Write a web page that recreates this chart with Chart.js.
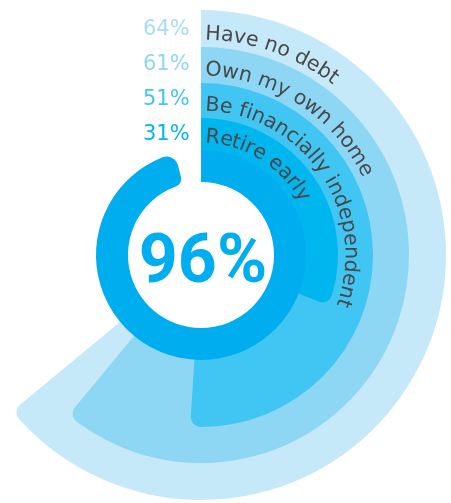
<!DOCTYPE html>
<html>
<head>
<meta charset="UTF-8">
<script src="https://cdn.jsdelivr.net/npm/chart.js@4.4.1/dist/chart.umd.min.js"></script>
<style>
    body { margin:0; background:#fff; }
    #wrap { position:relative; width:451px; height:503px; overflow:hidden; }
    #wrap canvas { position:absolute; left:0; top:0; }
</style>
</head>
<body>
<div id="wrap">
    <canvas id="ring0" width="451" height="503"></canvas>
    <canvas id="ring1" width="451" height="503"></canvas>
    <canvas id="ring2" width="451" height="503"></canvas>
    <canvas id="ring3" width="451" height="503"></canvas>
    <canvas id="ringTotal" width="451" height="503"></canvas>
</div>
<script>
    // data
    const goalLabels = ['Have no debt', 'Own my own home', 'Be financially independent', 'Retire early'];
    const goalValues = [64, 61, 51, 31];
    const totalValue = 96;

    // styles
    const goalColors = ['#c6e9f9', '#8dd7f5', '#41c5f3', '#00b6ef'];
    const goalTextColors = ['#a6dcf5', '#8fd7f5', '#41c5f3', '#00b6ef'];
    const totalColor = '#00aeef';
    const labelColor = '#48484a';
    const goalOuter = [245, 208, 172, 137];
    const totalRing = [73, 105];
    const pctBaselines = [35, 70, 105, 140];
    const pad = {left: 0, right: 49, top: 10, bottom: 3};

    const goalCharts = [];

    function ringChart(id, value, color, outer, inner, corners, plugins) {
        return new Chart(document.getElementById(id), {
            type: 'doughnut',
            data: {
                labels: ['', ''],
                datasets: [{
                    data: [value, 100 - value],
                    backgroundColor: [color, 'rgba(0,0,0,0)'],
                    borderWidth: 0,
                    borderRadius: corners,
                    clip: false
                }]
            },
            options: {
                responsive: false,
                animation: false,
                events: [],
                radius: outer,
                cutout: (inner / outer * 100) + '%',
                layout: {padding: pad},
                plugins: {legend: {display: false}, tooltip: {enabled: false}}
            },
            plugins: plugins || []
        });
    }

    // writes text letter by letter along a circle, clockwise
    function arcText(ctx, text, cx, cy, r, startAngle, offset) {
        for (let i = 0; i < text.length; i++) {
            const before = ctx.measureText(text.slice(0, i)).width;
            const w = ctx.measureText(text[i]).width;
            const a = startAngle + (offset + before + w / 2) / r;
            ctx.save();
            ctx.translate(cx + r * Math.cos(a), cy + r * Math.sin(a));
            ctx.rotate(a + Math.PI / 2);
            ctx.fillText(text[i], -w / 2, 0);
            ctx.restore();
        }
    }

    const textPlugin = {
        id: 'texts',
        afterDraw(chart) {
            const ctx = chart.ctx;
            const core = chart.getDatasetMeta(0).data[0];
            ctx.save();
            ctx.textBaseline = 'alphabetic';
            ctx.textAlign = 'left';

            // percentages on the left
            ctx.font = '21px "DejaVu Sans"';
            for (let i = 0; i < goalValues.length; i++) {
                ctx.fillStyle = goalTextColors[i];
                ctx.fillText(goalValues[i] + '%', 143, pctBaselines[i]);
            }

            // curved labels
            ctx.font = '20.5px "DejaVu Sans"';
            ctx.fillStyle = labelColor;
            for (let i = 0; i < goalLabels.length; i++) {
                const arc = goalCharts[i].getDatasetMeta(0).data[0];
                const innerEdge = i + 1 < goalCharts.length
                    ? goalCharts[i + 1].getDatasetMeta(0).data[0].outerRadius
                    : core.outerRadius;
                arcText(ctx, goalLabels[i], arc.x, arc.y, innerEdge + 7.5, arc.startAngle, 4);
            }

            // total in the middle
            ctx.font = 'bold 68px Roboto';
            ctx.textAlign = 'center';
            ctx.fillStyle = totalColor;
            ctx.fillText(totalValue + '%', core.x + 2, core.y + 27);
            ctx.restore();
        }
    };

    for (let i = 0; i < goalValues.length; i++) {
        goalCharts.push(ringChart('ring' + i, goalValues[i], goalColors[i], goalOuter[i], 95,
            {outerStart: 0, innerStart: 0, outerEnd: 10, innerEnd: 0}));
    }
    ringChart('ringTotal', totalValue, totalColor, totalRing[1], totalRing[0],
        {outerStart: 0, innerStart: 0, outerEnd: 12, innerEnd: 8}, [textPlugin]);
</script>
</body>
</html>
